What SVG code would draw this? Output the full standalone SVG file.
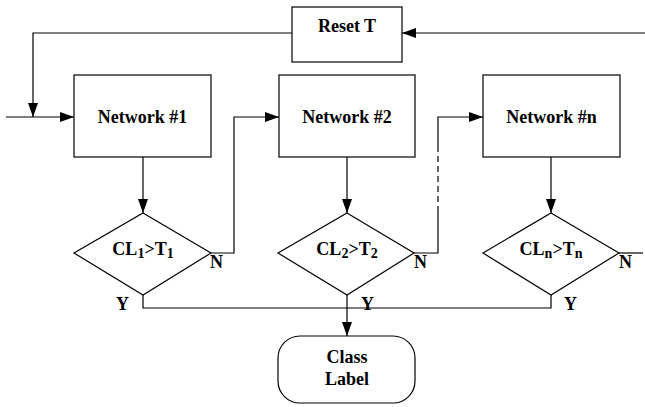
<svg xmlns="http://www.w3.org/2000/svg" width="645" height="407" viewBox="0 0 645 407">
  <style>
    .box { fill: #fff; stroke: #000; stroke-width: 1.2; }
    .ln { fill: none; stroke: #000; stroke-width: 1.2; }
    .dash { fill: none; stroke: #000; stroke-width: 1.2; stroke-dasharray: 6 4; }
    .t { font-family: "Liberation Serif", "Times New Roman", serif; font-weight: bold; font-size: 18px; fill: #000; text-anchor: middle; }
    .s { font-size: 14px; }
    .lbl { font-family: "Liberation Serif", "Times New Roman", serif; font-weight: bold; font-size: 18px; fill: #000; }
  </style>
  <defs>
    <marker id="arr" viewBox="0 0 14 10" refX="14" refY="5" markerWidth="14" markerHeight="10" markerUnits="userSpaceOnUse" orient="auto">
      <path d="M0,0 L14,5 L0,10 Z" fill="#000"/>
    </marker>
  </defs>

  <g id="connectors">
    <!-- feedback into Reset T and back to the input -->
    <line class="ln" x1="645" y1="33" x2="402" y2="33" marker-end="url(#arr)"/>
    <polyline class="ln" points="292,33 33,33 33,117" marker-end="url(#arr)"/>
    <line class="ln" x1="6" y1="117" x2="74" y2="117" marker-end="url(#arr)"/>
    <!-- network outputs into the tests -->
    <line class="ln" x1="143" y1="157" x2="143" y2="213" marker-end="url(#arr)"/>
    <line class="ln" x1="347" y1="157" x2="347" y2="213" marker-end="url(#arr)"/>
    <line class="ln" x1="551" y1="157" x2="551" y2="213" marker-end="url(#arr)"/>
    <!-- "N" branches to the next network -->
    <polyline class="ln" points="211,253 234,253 234,117 279,117" marker-end="url(#arr)"/>
    <polyline class="ln" points="414,253 438,253 438,212"/>
    <line class="dash" x1="438" y1="212" x2="438" y2="150"/>
    <polyline class="ln" points="438,150 438,117 483,117" marker-end="url(#arr)"/>
    <line class="ln" x1="619" y1="253" x2="643" y2="253"/>
    <!-- "Y" branches to the class label -->
    <polyline class="ln" points="143,295 143,308 551,308 551,295"/>
    <line class="ln" x1="347" y1="295" x2="347" y2="336" marker-end="url(#arr)"/>
  </g>

  <g id="reset">
    <rect class="box" x="292" y="7" width="110" height="55"/>
    <text class="t" x="347" y="32">Reset T</text>
  </g>

  <g id="net1">
    <rect class="box" x="74" y="75" width="137" height="82"/>
    <text class="t" x="142.5" y="123">Network #1</text>
  </g>
  <g id="net2">
    <rect class="box" x="279" y="75" width="136" height="82"/>
    <text class="t" x="347" y="123">Network #2</text>
  </g>
  <g id="netn">
    <rect class="box" x="483" y="75" width="137" height="82"/>
    <text class="t" x="551.5" y="123">Network #n</text>
  </g>

  <g id="test1">
    <polygon class="box" points="143,213 211,253 143,295 74,253"/>
    <text class="t" x="143" y="255">CL<tspan class="s" dy="3">1</tspan><tspan dy="-3">&gt;T</tspan><tspan class="s" dy="3">1</tspan></text>
    <text class="lbl" x="210" y="268">N</text>
    <text class="lbl" x="116" y="310">Y</text>
  </g>
  <g id="test2">
    <polygon class="box" points="347,213 414,253 347,295 278,253"/>
    <text class="t" x="347" y="255">CL<tspan class="s" dy="3">2</tspan><tspan dy="-3">&gt;T</tspan><tspan class="s" dy="3">2</tspan></text>
    <text class="lbl" x="414" y="268">N</text>
    <text class="lbl" x="361" y="310">Y</text>
  </g>
  <g id="testn">
    <polygon class="box" points="551,213 619,253 551,295 483,253"/>
    <text class="t" x="551" y="255">CL<tspan class="s" dy="3">n</tspan><tspan dy="-3">&gt;T</tspan><tspan class="s" dy="3">n</tspan></text>
    <text class="lbl" x="619" y="268">N</text>
    <text class="lbl" x="564" y="310">Y</text>
  </g>

  <g id="classlabel">
    <rect class="box" x="278" y="336" width="137" height="67" rx="22" ry="22"/>
    <text class="t" x="347" y="363">Class</text>
    <text class="t" x="347" y="385">Label</text>
  </g>
</svg>
